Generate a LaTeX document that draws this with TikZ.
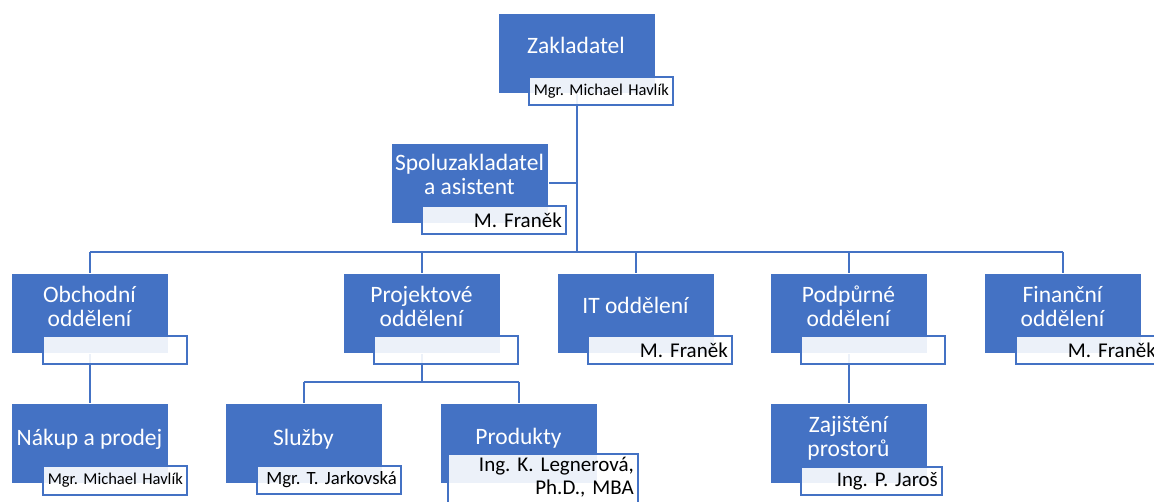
\documentclass[tikz,border=0pt]{standalone}
\usepackage{fontspec}
\setmainfont{Carlito}
\definecolor{orgblue}{HTML}{4472C4}
\frenchspacing
\begin{document}
\begin{tikzpicture}[x=1pt,y=-1pt,
  unit/.style={fill=orgblue, draw=white, line width=0.8pt, minimum width=157pt,
    minimum height=80pt, anchor=north west, inner sep=0pt},
  title/.style={text=white, align=center, inner sep=0pt,
    font=\fontsize{23.5}{24}\selectfont},
  holder/.style={fill=white, fill opacity=0.9, text opacity=1, draw=orgblue,
    line width=1.6pt, anchor=north west, minimum height=28pt, text width=136pt,
    inner xsep=4pt, inner ysep=0pt, align=right,
    font=\fontsize{21}{23}\selectfont},
  namesize/.style={font=\fontsize{#1}{23}\selectfont},
  link/.style={draw=orgblue, line width=1.8pt}]

\path[use as bounding box] (0,0) rectangle (1154,502);

% placement of every unit box (top-left corners)
\node[unit] (zak) at (498,13) {};
\node[unit] (spo) at (391,143) {};
\node[unit] (obch) at (11,273) {};
\node[unit] (proj) at (343,273) {};
\node[unit] (it) at (557,273) {};
\node[unit] (podp) at (770,273) {};
\node[unit] (fin) at (984,273) {};
\node[unit] (nak) at (11,403) {};
\node[unit] (slu) at (225,403) {};
\node[unit] (pro) at (440,403) {};
\node[unit] (zaj) at (770,403) {};

% junction rows
\coordinate (bus) at (576,252);
\coordinate (subbus) at (421,382);

% connectors
\path[link] (zak.south) -- (zak.south |- bus);
\path[link] (spo.east) -- (spo.east -| zak.south);
\path[link] (obch.north |- bus) -- (fin.north |- bus);
\foreach \u in {obch,proj,it,podp,fin}
  \path[link] (\u.north |- bus) -- (\u.north);
\path[link] (obch.south) -- (nak.north);
\path[link] (proj.south) -- (proj.south |- subbus);
\path[link] (slu.north |- subbus) -- (pro.north |- subbus);
\path[link] (slu.north |- subbus) -- (slu.north);
\path[link] (pro.north |- subbus) -- (pro.north);
\path[link] (podp.south) -- (zaj.north);

% boxes repainted over the connector ends
\foreach \u/\x/\y in {zak/498/13, spo/391/143, obch/11/273, proj/343/273,
  it/557/273, podp/770/273, fin/984/273, nak/11/403, slu/225/403,
  pro/440/403, zaj/770/403}
  \node[unit] (\u-box) at (\x,\y) {};

% titles
\node[title] (zakT) at (576,45) {Zakladatel};
\node[title] (spoT) at (469.5,174.5) {Spoluzakladatel\\a asistent};
\node[title] (obchT) at (89.5,306) {Obchodní\\oddělení};
\node[title] (projT) at (421.5,306) {Projektové\\oddělení};
\node[title] (itT) at (635.5,305) {IT oddělení};
\node[title] (podpT) at (848.5,306) {Podpůrné\\oddělení};
\node[title] (finT) at (1062.5,306) {Finanční\\oddělení};
\node[title] (nakT) at (89.5,439) {Nákup a prodej};
\node[title] (sluT) at (303.5,439) {Služby};
\node[title] (proT) at (518.5,438) {Produkty};
\node[title] (zajT) at (848.5,438) {Zajištění\\prostorů};

% name tags
\node[holder, namesize=16.5] (zakN) at (528,76) {\mbox{Mgr. Michael Havlík}};
\node[holder] (spoN) at (421,205) {M. Franěk};
\node[holder] (obchN) at (42,335) {};
\node[holder] (projN) at (373,335) {};
\node[holder] (itN) at (587,335) {M. Franěk};
\node[holder] (podpN) at (800,335) {};
\node[holder] (finN) at (1015,335) {M. Franěk};
\node[holder, namesize=16.5, minimum height=29pt] (nakN) at (42,465) {\mbox{Mgr. Michael Havlík}};
\node[holder, namesize=18.7] (sluN) at (256,465) {\mbox{Mgr. T. Jarkovská}};
\node[holder, namesize=21, text width=182pt, inner ysep=3pt] (proN) at (447,453)
  {Ing. K. Legnerová,\\Ph.D., MBA\\\strut};
\node[holder, namesize=20.8, text width=133pt] (zajN) at (800,466) {Ing. P. Jaroš};
\end{tikzpicture}
\end{document}
